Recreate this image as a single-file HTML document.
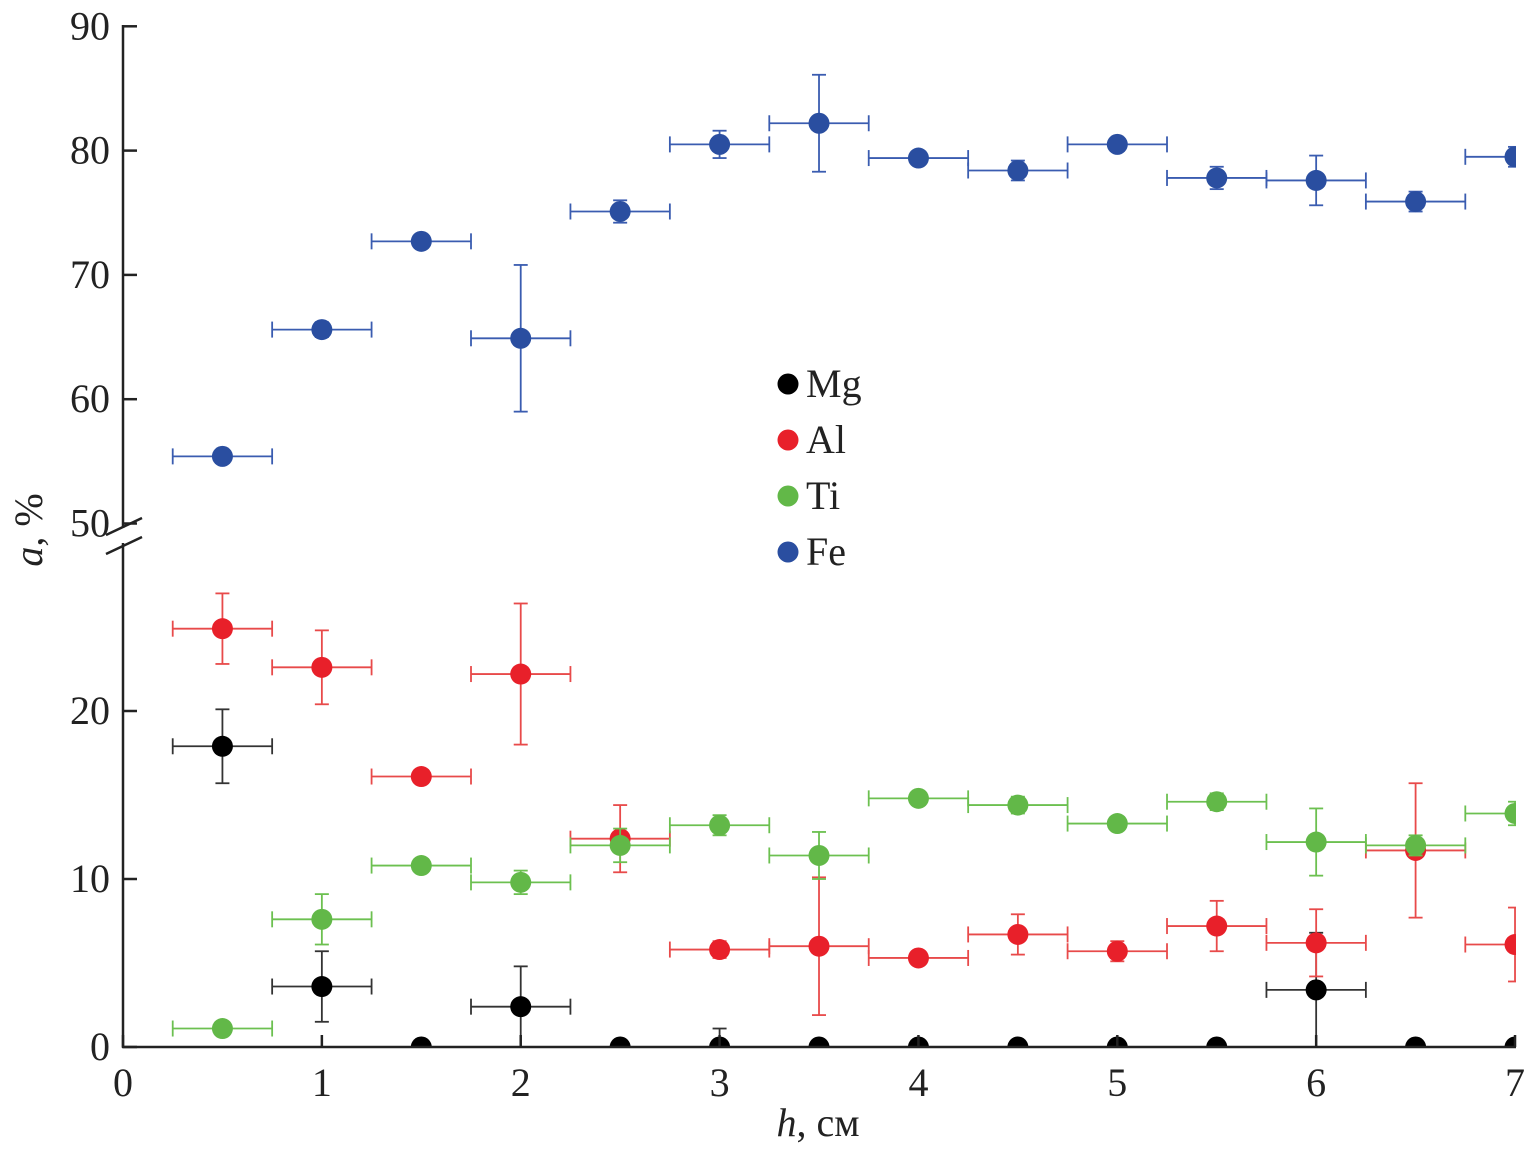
<!DOCTYPE html>
<html><head><meta charset="utf-8"><style>
body{margin:0;background:#fff}
svg{display:block}
text{font-family:"Liberation Serif",serif;fill:#222}
</style></head><body>
<svg id="chart" width="1527" height="1152"></svg>
<script>
const categories=[0.5,1,1.5,2,2.5,3,3.5,4,4.5,5,5.5,6,6.5,7];
const feValues=[55.4,65.6,72.7,64.9,75.1,80.5,82.2,79.4,78.4,80.5,77.8,77.6,75.9,79.5];
const feErr=[0.3,0.6,0.4,5.9,0.9,1.1,3.9,0.5,0.8,0.5,0.9,2.0,0.8,0.8];
const alValues=[24.9,22.6,16.1,22.2,12.4,5.8,6.0,5.3,6.7,5.7,7.2,6.2,11.7,6.1];
const alErr=[2.1,2.2,0.4,4.2,2.0,0.5,4.1,0.4,1.2,0.6,1.5,2.0,4.0,2.2];
const tiValues=[1.1,7.6,10.8,9.8,12.0,13.2,11.4,14.8,14.4,13.3,14.6,12.2,12.0,13.9];
const tiErr=[0.2,1.5,0.3,0.7,1.0,0.6,1.4,0.3,0.5,0.4,0.5,2.0,0.6,0.7];
const mgValues=[17.9,3.6,0,2.4,0,0,0,0,0,0,0,3.4,0,0];
const mgErr=[2.2,2.1,0,2.4,0,1.1,0,0,0,0,0,3.4,0,0];
const xTicks=[0,1,2,3,4,5,6,7];
const yTicksUpper=[50,60,70,80,90];
const yTicksLower=[0,10,20];

const NS="http://www.w3.org/2000/svg";
const svg=document.getElementById('chart');
function el(t,a,p){const e=document.createElementNS(NS,t);for(const k in a)e.setAttribute(k,a[k]);(p||svg).appendChild(e);return e;}
const X=v=>123+v*198.86;
const Yu=v=>523.5-(v-50)*12.43;
const Yl=v=>1047-v*16.8;
const Y=v=>v>=40?Yu(v):Yl(v);

const defs=el('defs',{});
const cp=el('clipPath',{id:'pc'},defs);
el('rect',{x:123,y:0,width:1393,height:1047},cp);

const plot=el('g',{'clip-path':'url(#pc)'});
const series=[
 {name:'mg',vals:mgValues,err:mgErr,c:'#000',ec:'#333'},
 {name:'al',vals:alValues,err:alErr,c:'#e8202a',ec:'#e84a4a'},
 {name:'ti',vals:tiValues,err:tiErr,c:'#62b848',ec:'#6cc050'},
 {name:'fe',vals:feValues,err:feErr,c:'#2a4ea0',ec:'#3a5cb0'}
];
series.forEach(s=>{
  const g=el('g',{},plot);
  
  
  categories.forEach((c,i)=>{
    const v=s.vals[i],e=s.err[i],cx=X(c),cy=Y(v);
    const eg=el('g',{stroke:s.ec,'stroke-width':1.8},g);
    
    
    if(v>0){
      const x0=X(c-0.25),x1=X(c+0.25);
      el('line',{x1:x0,y1:cy,x2:x1,y2:cy},eg);
      el('line',{x1:x0,y1:cy-8,x2:x0,y2:cy+8},eg);
      el('line',{x1:x1,y1:cy-8,x2:x1,y2:cy+8},eg);
    }
    if(e>0){
      const yt=Y(v+e),yb=Y(Math.max(0,v-e));
      el('line',{x1:cx,y1:yt,x2:cx,y2:yb},eg);
      el('line',{x1:cx-7,y1:yt,x2:cx+7,y2:yt},eg);
      el('line',{x1:cx-7,y1:yb,x2:cx+7,y2:yb},eg);
    }
  });
  categories.forEach((c,i)=>{
    const p=el('circle',{cx:X(c),cy:Y(s.vals[i]),r:10.5,fill:s.c},g);
    
    
  });
});

const ax=el('g',{stroke:'#222','stroke-width':2.5,fill:'none'});


el('line',{x1:123,y1:25,x2:123,y2:528},ax);
el('line',{x1:123,y1:543,x2:123,y2:1048},ax);
el('line',{x1:122,y1:1047,x2:1516,y2:1047},ax);
el('line',{x1:106,y1:535,x2:142,y2:518},ax);
el('line',{x1:106,y1:554,x2:142,y2:537},ax);
xTicks.forEach(t=>{
  el('line',{x1:X(t),y1:1047,x2:X(t),y2:1035},ax);
  const tx=el('text',{x:X(t),y:1096,'text-anchor':'middle','font-size':40});
  tx.textContent=t;
  
  
});
yTicksUpper.concat(yTicksLower).forEach(t=>{
  const y=Y(t);
  el('line',{x1:123,y1:y,x2:137,y2:y},ax);
  const tx=el('text',{x:110,y:y+13,'text-anchor':'end','font-size':40});
  tx.textContent=t;
  
  
});
const xt=el('text',{x:818,y:1136,'text-anchor':'middle','font-size':40});
xt.innerHTML='<tspan font-style="italic">h</tspan>, см';


const yt=el('text',{x:0,y:0,'text-anchor':'middle','font-size':40,transform:'translate(42,530) rotate(-90)'});
yt.innerHTML='<tspan font-style="italic">a</tspan>, %';



const lg=el('g',{});


[['Mg','#000'],['Al','#e8202a'],['Ti','#62b848'],['Fe','#2a4ea0']].forEach((d,i)=>{
  const y=384+i*56;
  const it=el('g',{},lg);
  
  
  el('circle',{cx:788,cy:y,r:10.5,fill:d[1]},it);
  const t=el('text',{x:806,y:y+13,'font-size':40},it);
  t.textContent=d[0];
});
</script>
</body></html>
